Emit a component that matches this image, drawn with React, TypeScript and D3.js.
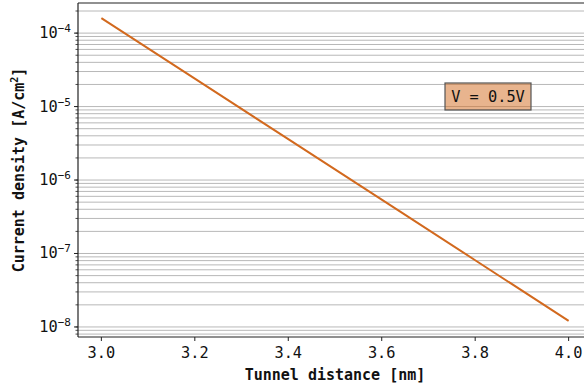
import React from "react";
import * as d3 from "d3";

// Tunnel current density vs. barrier thickness at fixed bias
const distances = [3.0, 3.2, 3.4, 3.6, 3.8, 4.0];
const densities = [1.6e-4, 2.4e-5, 3.6e-6, 5.4e-7, 8.1e-8, 1.21e-8];
const xTicks = [3.0, 3.2, 3.4, 3.6, 3.8, 4.0];
const yExponents = [-4, -5, -6, -7, -8];
const annotation = "V = 0.5V";

const W = 584;
const H = 389;
const M = { left: 78, top: 3, right: 592, bottom: 337 };
const FONT = "'DejaVu Sans Mono', monospace";
const LINE = "#d2691e";
const TICK_FS = 15.3;

export default function App() {
  const x = d3.scaleLinear().domain([2.95, 4.05]).range([M.left, M.right]);
  const y = d3
    .scaleLog()
    .domain([7.3e-9, 2.57e-4])
    .range([M.bottom, M.top]);

  const [y0, y1] = y.domain();
  const minor: number[] = [];
  for (let e = -9; e <= -3; e++) {
    for (let m = 1; m <= 9; m++) {
      const v = m * Math.pow(10, e);
      if (v >= y0 && v <= y1) minor.push(v);
    }
  }

  const line = d3
    .line<number>()
    .x((_, i) => x(distances[i]))
    .y((d) => y(d));

  const bx = 445,
    by = 83,
    bw = 86,
    bh = 27;

  return (
    <svg
      width={W}
      height={H}
      style={{ position: "absolute", left: 0, top: 0, background: "#fff" }}
      fontFamily={FONT}
    >
      <defs>
        <clipPath id="plot">
          <rect x={M.left} y={M.top} width={M.right - M.left} height={M.bottom - M.top} />
        </clipPath>
      </defs>
      {/* horizontal grid on every major and minor log tick */}
      <g>
        {minor.map((v, i) => (
          <line
            key={i}
            x1={M.left}
            x2={M.right}
            y1={y(v)}
            y2={y(v)}
            stroke="#b8b8b8"
            strokeWidth={1}
          />
        ))}
      </g>
      <path
        d={line(densities) || ""}
        fill="none"
        stroke={LINE}
        strokeWidth={2}
        clipPath="url(#plot)"
      />
      {/* annotation box */}
      <g>
        <rect
          x={bx}
          y={by}
          width={bw}
          height={bh}
          fill={LINE}
          fillOpacity={0.5}
          stroke="#555"
          strokeWidth={1.2}
        />
        <text
          x={bx + bw / 2}
          y={by + bh / 2}
          textAnchor="middle"
          dominantBaseline="central"
          fontSize={TICK_FS}
          fill="#111"
        >
          {annotation}
        </text>
      </g>
      {/* spines */}
      <line x1={M.left} x2={M.left} y1={M.top} y2={M.bottom} stroke="#222" strokeWidth={1.2} />
      <line x1={M.left} x2={M.right} y1={M.bottom} y2={M.bottom} stroke="#222" strokeWidth={1.2} />
      <line x1={M.left} x2={M.right} y1={M.top} y2={M.top} stroke="#222" strokeWidth={1.2} />
      {/* y minor ticks */}
      {minor.map((v, i) => (
        <line key={i} x1={M.left - 2.5} x2={M.left} y1={y(v)} y2={y(v)} stroke="#222" strokeWidth={0.8} />
      ))}
      {/* y major ticks and labels */}
      {yExponents.map((e) => {
        const yy = y(Math.pow(10, e));
        return (
          <g key={e}>
            <line x1={M.left - 4} x2={M.left} y1={yy} y2={yy} stroke="#222" strokeWidth={1} />
            <text x={M.left - 7} y={yy + 5} textAnchor="end" fontSize={TICK_FS} fill="#111">
              10
              <tspan dy={-6} fontSize={11}>
                {"\u2212" + Math.abs(e)}
              </tspan>
            </text>
          </g>
        );
      })}
      {/* x ticks */}
      {xTicks.map((t) => (
        <g key={t}>
          <line x1={x(t)} x2={x(t)} y1={M.bottom} y2={M.bottom + 4} stroke="#222" strokeWidth={1} />
          <text x={x(t)} y={M.bottom + 21} textAnchor="middle" fontSize={TICK_FS} fill="#111">
            {t.toFixed(1)}
          </text>
        </g>
      ))}
      <text
        x={(M.left + M.right) / 2}
        y={380}
        textAnchor="middle"
        fontSize={15}
        fontWeight="bold"
        fill="#111"
      >
        Tunnel distance [nm]
      </text>
      <text
        transform={`translate(24, ${(M.top + M.bottom) / 2}) rotate(-90)`}
        textAnchor="middle"
        fontSize={15}
        fontWeight="bold"
        fill="#111"
      >
        Current density [A/cm
        <tspan dy={-6} fontSize={10}>
          2
        </tspan>
        <tspan dy={6}>]</tspan>
      </text>
    </svg>
  );
}
